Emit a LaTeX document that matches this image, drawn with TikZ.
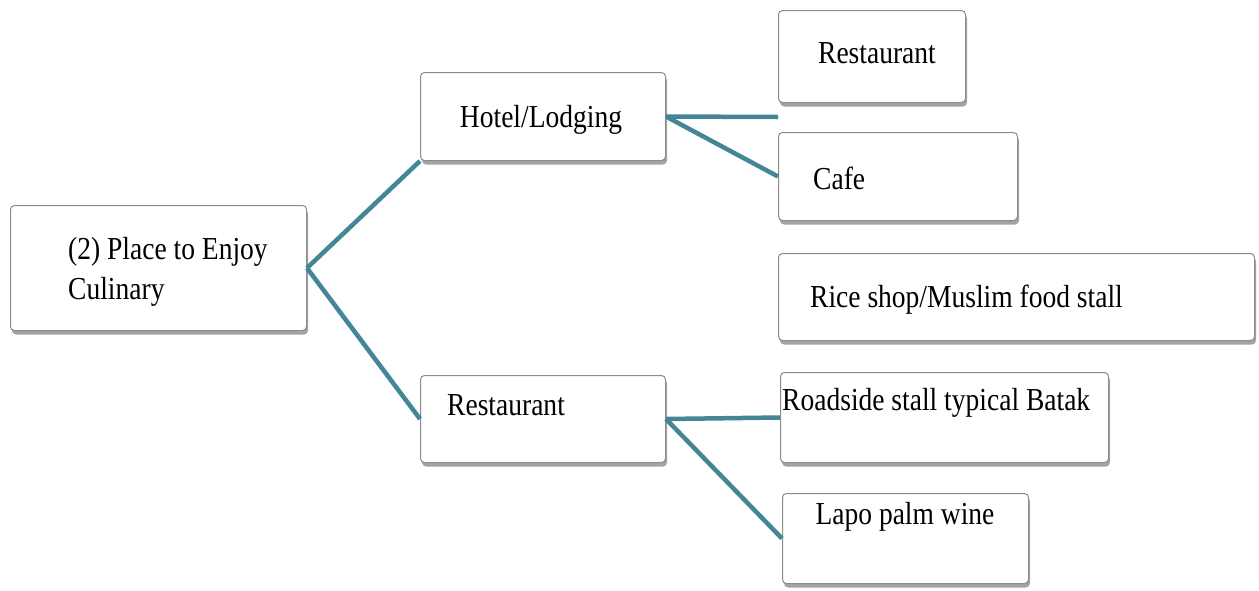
\documentclass[tikz,border=0pt]{standalone}
\usepackage{fontspec}
\setmainfont{Liberation Serif}[FakeStretch=0.86]
\usetikzlibrary{shadows}
\definecolor{linkc}{RGB}{68,134,150}
\definecolor{boxc}{RGB}{140,140,140}
\tikzset{
  boxnode/.style={rectangle, draw=boxc, line width=1pt, rounded corners=4pt, fill=white,
    drop shadow={shadow xshift=1.5pt, shadow yshift=-4pt, fill=black!60, opacity=0.6},
    inner sep=0pt, anchor=north west},
  txt/.style={inner sep=0pt, font=\fontsize{32}{40}\selectfont, text=black},
  link/.style={draw=linkc, line width=4.5pt}
}
\begin{document}
\begin{tikzpicture}[x=1pt,y=-1pt]
\useasboundingbox (0,0) rectangle (1259,590);
% boxes
\node[boxnode, minimum width=296pt, minimum height=125pt] (root) at (10,205) {};
\node[boxnode, minimum width=245pt, minimum height=88pt] (hotel) at (420,72) {};
\node[boxnode, minimum width=245pt, minimum height=87pt] (rest) at (420,375) {};
\node[boxnode, minimum width=187pt, minimum height=92pt] (hres) at (778,10) {};
\node[boxnode, minimum width=239pt, minimum height=88pt] (cafe) at (778,132) {};
\node[boxnode, minimum width=476pt, minimum height=87pt] (rice) at (778,253) {};
\node[boxnode, minimum width=328pt, minimum height=90pt] (road) at (780,372) {};
\node[boxnode, minimum width=246pt, minimum height=90pt] (lapo) at (782,493) {};
% texts
\node[txt, anchor=west, align=left] (troot) at (68,272) {(2) Place to Enjoy\\Culinary};
\node[txt] (thotel) at (541,120) {Hotel/Lodging};
\node[txt] (thres) at (877,53) {Restaurant};
\node[txt, anchor=west] (tcafe) at (813,178) {Cafe};
\node[txt, anchor=west] (trice) at (810,300) {Rice shop/Muslim food stall};
\node[txt, anchor=west] (trest) at (447,405) {Restaurant};
\node[txt, anchor=west] (troad) at (782,403) {Roadside stall typical Batak};
\node[txt] (tlapo) at (905,517) {Lapo palm wine};
% connectors
\coordinate (hend) at (778,117);
\draw[link] (root.east) -- (hotel.south west);
\draw[link] (root.east) -- (rest.west);
\draw[link] (hotel.east) -- (hend);
\draw[link] (hotel.east) -- (cafe.west);
\draw[link] (rest.east) -- (road.west);
\draw[link] (rest.east) -- (lapo.west);
\end{tikzpicture}
\end{document}
